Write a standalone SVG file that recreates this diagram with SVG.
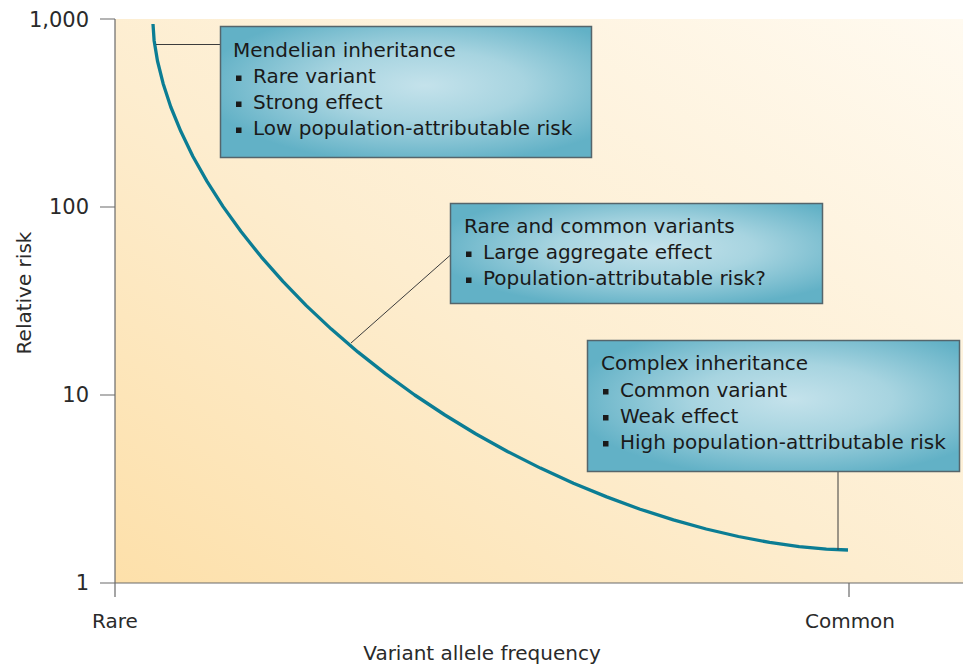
<svg xmlns="http://www.w3.org/2000/svg" width="963" height="669" viewBox="0 0 963 669">
<style>
.t{font-family:"DejaVu Sans","Liberation Sans",sans-serif;font-size:20px;fill:#1a1a1a}
.ax{font-family:"DejaVu Sans","Liberation Sans",sans-serif;font-size:20px;fill:#2a2a2a}
.tk{font-family:"DejaVu Sans","Liberation Sans",sans-serif;font-size:21px;fill:#2a2a2a}
.box{fill:url(#boxg);stroke:#55656b;stroke-width:1.5}
.bul{fill:#1a1a1a}
.axis{stroke:#6a6a6a;stroke-width:1.2;fill:none}
.conn{stroke:#3c3c3c;stroke-width:1;fill:none}
.curve{stroke:#0b7d94;stroke-width:3.3;fill:none;stroke-linejoin:round;stroke-linecap:butt}
</style>
<defs>
<linearGradient id="bg" x1="0" y1="1" x2="1" y2="0">
<stop offset="0" stop-color="#fde0aa"/>
<stop offset="0.45" stop-color="#fdedcf"/>
<stop offset="1" stop-color="#fffaf0"/>
</linearGradient>
<radialGradient id="boxg" cx="0.55" cy="0.45" r="0.6">
<stop offset="0" stop-color="#c4e2eb"/>
<stop offset="0.45" stop-color="#a7d4e0"/>
<stop offset="1" stop-color="#62b1c6"/>
</radialGradient>
</defs>
<rect x="0" y="0" width="963" height="669" fill="#ffffff"/>
<rect x="115" y="19" width="848" height="564" fill="url(#bg)"/>
<g id="axes">
<path class="axis" d="M115,19 V597 M100,19 H115 M100,207 H115 M100,395 H115 M100,583 H963 M849,583 V597"/>
<text class="tk" x="89" y="27" text-anchor="end">1,000</text>
<text class="tk" x="89" y="214" text-anchor="end">100</text>
<text class="tk" x="89" y="402" text-anchor="end">10</text>
<text class="tk" x="89" y="590" text-anchor="end">1</text>
<text class="ax" x="115" y="628" text-anchor="middle">Rare</text>
<text class="ax" x="850" y="628" text-anchor="middle">Common</text>
<text class="ax" x="482" y="660" text-anchor="middle">Variant allele frequency</text>
<text class="ax" transform="translate(31,293) rotate(-90)" text-anchor="middle">Relative risk</text>
</g>
<g id="curve">
<path class="curve" d="M153,24 L154.1,40.4 L157.5,61 L163.1,83.4 L170.8,107 L180.8,131.3 L192.8,156.2 L207,181.4 L223.1,206.6 L241.2,231.8 L261.2,256.8 L282.9,281.4 L306.3,305.6 L331.3,329.1 L357.8,351.9 L385.7,373.9 L414.7,395 L444.9,415 L476,434 L507.9,451.7 L540.4,468.1 L573.4,483.3 L606.7,496.9 L640.1,509.2 L673.4,519.9 L706.2,529 L738.4,536.5 L769.6,542.4 L799.2,546.6 L826.4,549.2 L848,550"/>
</g>
<g id="connectors">
<path class="conn" d="M156,44.5 H220.5"/>
<path class="conn" d="M351,343 L450.5,255"/>
<path class="conn" d="M838,471.5 V550"/>
</g>
<g id="mendelian">
<rect class="box" x="220.5" y="26.5" width="371" height="131"/>
<text class="t" x="233" y="57">Mendelian inheritance</text>
<rect class="bul" x="236" y="75.5" width="5.5" height="5.5"/>
<text class="t" x="253" y="83">Rare variant</text>
<rect class="bul" x="236" y="101.5" width="5.5" height="5.5"/>
<text class="t" x="253" y="109">Strong effect</text>
<rect class="bul" x="236" y="127.5" width="5.5" height="5.5"/>
<text class="t" x="253" y="135">Low population-attributable risk</text>
</g>
<g id="rare-common">
<rect class="box" x="450.5" y="203.5" width="372" height="100"/>
<text class="t" x="464" y="233">Rare and common variants</text>
<rect class="bul" x="466" y="251.5" width="5.5" height="5.5"/>
<text class="t" x="483" y="259">Large aggregate effect</text>
<rect class="bul" x="466" y="277.5" width="5.5" height="5.5"/>
<text class="t" x="483" y="285">Population-attributable risk?</text>
</g>
<g id="complex">
<rect class="box" x="587.5" y="340.5" width="372" height="131"/>
<text class="t" x="601" y="370">Complex inheritance</text>
<rect class="bul" x="603" y="389" width="5.5" height="5.5"/>
<text class="t" x="620" y="396.5">Common variant</text>
<rect class="bul" x="603" y="415" width="5.5" height="5.5"/>
<text class="t" x="620" y="422.5">Weak effect</text>
<rect class="bul" x="603" y="441" width="5.5" height="5.5"/>
<text class="t" x="620" y="448.5">High population-attributable risk</text>
</g>
</svg>
